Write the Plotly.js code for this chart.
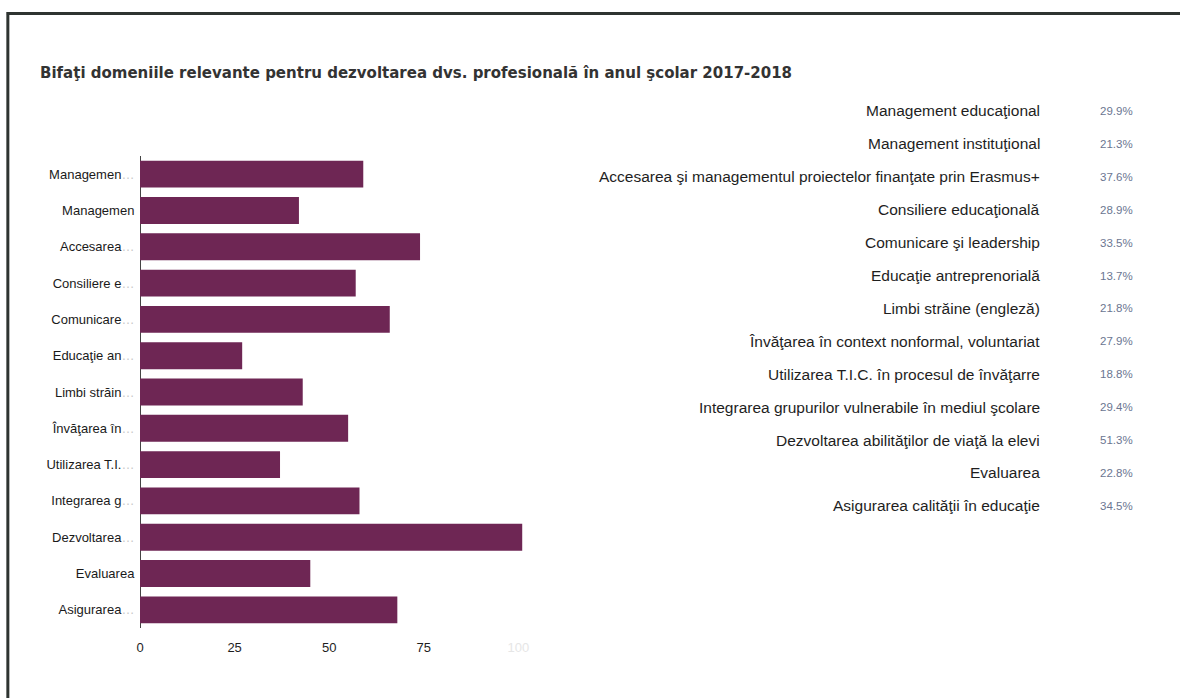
<!DOCTYPE html>
<html>
<head>
<meta charset="utf-8">
<script src="https://cdn.plot.ly/plotly-3.0.1.min.js"></script>
<style>html,body{margin:0;padding:0;background:#fff;}#chart{width:1180px;height:698px;}</style>
</head>
<body>
<div id="chart"></div>
<script>
// ---- data ----
const titleText = "Bifaţi domeniile relevante pentru dezvoltarea dvs. profesională în anul şcolar 2017-2018";
const shortLabels = ["Managemen", "Managemen", "Accesarea", "Consiliere e", "Comunicare", "Educaţie an", "Limbi străin", "Învăţarea în", "Utilizarea T.I.", "Integrarea g", "Dezvoltarea", "Evaluarea", "Asigurarea"];
const fullLabels = [
  "Management educaţional",
  "Management instituţional",
  "Accesarea şi managementul proiectelor finanţate prin Erasmus+",
  "Consiliere educaţională",
  "Comunicare şi leadership",
  "Educaţie antreprenorială",
  "Limbi străine (engleză)",
  "Învăţarea în context nonformal, voluntariat",
  "Utilizarea T.I.C. în procesul de învăţarre",
  "Integrarea grupurilor vulnerabile în mediul şcolare",
  "Dezvoltarea abilităţilor de viaţă la elevi",
  "Evaluarea",
  "Asigurarea calităţii în educaţie"
];
const counts = [59, 42, 74, 57, 66, 27, 43, 55, 37, 58, 101, 45, 68];
const percents = ["29.9%", "21.3%", "37.6%", "28.9%", "33.5%", "13.7%", "21.8%", "27.9%", "18.8%", "29.4%", "51.3%", "22.8%", "34.5%"];
const xTickVals = [0, 25, 50, 75, 100];
const xTickLabels = ["0", "25", "50", "75", "100"];

// ---- layout geometry ----
const W = 1180, H = 698;
const ML = 140, MT = 156, MB = 70;
const XMAX = 102;
const PW = XMAX * 3.78;
const MR = W - ML - PW;
const PH = H - MT - MB;
const px2x = p => (p - ML) / PW;
const py2y = p => 1 - (p - MT) / PH;

const ids = shortLabels.map((s, i) => "c" + i);
const tickText = shortLabels.map((s, i) => {
  const noDots = (s === "Managemen" && i === 1) || s === "Evaluarea";
  return noDots ? s : s + '<span style="color:#c8c8c8">…</span>';
});

const trace = {
  type: "bar",
  orientation: "h",
  y: ids,
  x: counts,
  marker: { color: "#6e2654" },
  hoverinfo: "x",
  showlegend: false
};

const annotations = [];
fullLabels.forEach((lab, i) => {
  const py = 111 + i * 32.9;
  annotations.push({
    xref: "paper", yref: "paper", x: px2x(1041), y: py2y(py),
    xanchor: "right", yanchor: "middle", showarrow: false,
    text: lab, font: { family: "Liberation Sans, Arial, sans-serif", size: 15.5, color: "#1e1e1e" }
  });
  annotations.push({
    xref: "paper", yref: "paper", x: px2x(1097), y: py2y(py),
    xanchor: "left", yanchor: "middle", showarrow: false,
    text: percents[i], font: { family: "Liberation Sans, Arial, sans-serif", size: 11.5, color: "#6b7691" }
  });
});

const layout = {
  width: W, height: H,
  margin: { l: ML, r: MR, t: MT, b: MB, pad: 0 },
  paper_bgcolor: "#fff", plot_bgcolor: "#fff",
  title: {
    text: "<b>" + titleText + "</b>",
    xref: "container", yref: "container",
    x: 40 / W, y: 1 - 73 / H, xanchor: "left", yanchor: "middle",
    font: { family: "DejaVu Sans, Liberation Sans, Arial, sans-serif", size: 15, color: "#333" }
  },
  bargap: 0.26,
  xaxis: {
    range: [0, XMAX], tickvals: xTickVals,
    ticktext: xTickLabels.map((t, i) => i === 4 ? '<span style="color:#e6e6e6">' + t + '</span>' : t),
    showgrid: false, zeroline: true, zerolinecolor: "#444", zerolinewidth: 1,
    ticks: "outside", ticklen: 7, tickcolor: "rgba(0,0,0,0)",
    tickfont: { family: "Liberation Sans, Arial, sans-serif", size: 13, color: "#1e1e1e" },
    fixedrange: true
  },
  yaxis: {
    type: "category", autorange: "reversed",
    tickvals: ids, ticktext: tickText,
    showgrid: false, zeroline: false, showline: false,
    ticks: "outside", ticklen: 2, tickcolor: "rgba(0,0,0,0)",
    tickfont: { family: "Liberation Sans, Arial, sans-serif", size: 13, color: "#1a1a1a" },
    fixedrange: true
  },
  annotations: annotations,
  shapes: [
    { type: "line", xref: "paper", yref: "paper", x0: px2x(7), x1: px2x(1180), y0: py2y(13.5), y1: py2y(13.5), line: { color: "#2e3431", width: 3 } },
    { type: "line", xref: "paper", yref: "paper", x0: px2x(8), x1: px2x(8), y0: py2y(12), y1: py2y(698), line: { color: "#2e3431", width: 3 } }
  ]
};

Plotly.newPlot("chart", [trace], layout, { displayModeBar: false, staticPlot: true });
</script>
</body>
</html>
